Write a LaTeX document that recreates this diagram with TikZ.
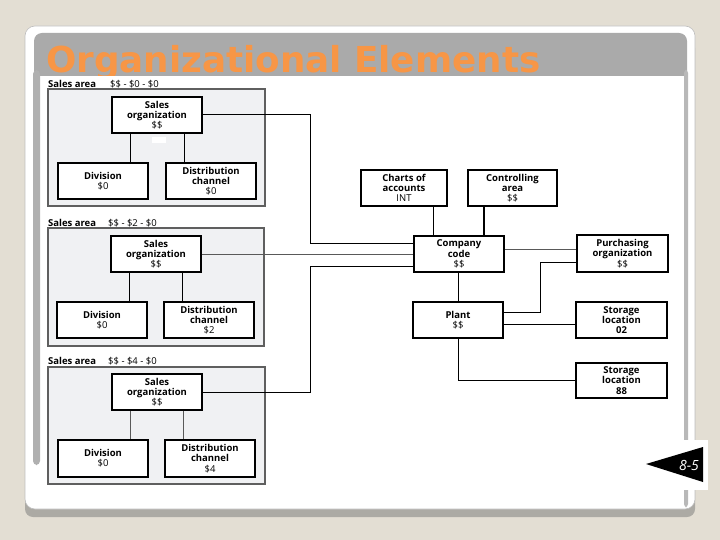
\documentclass[tikz,border=0pt]{standalone}
\usepackage{fontspec}
\newfontfamily\dfont{Open Sans}
\newfontfamily\tfont{DejaVu Sans}
\definecolor{bgc}{RGB}{227,222,211}
\definecolor{shadowc}{RGB}{172,170,164}
\definecolor{titlegray}{RGB}{170,170,170}
\definecolor{orangec}{RGB}{247,150,70}
\definecolor{barc}{RGB}{176,176,176}
\definecolor{stripc}{RGB}{184,184,184}
\definecolor{grpfill}{RGB}{240,241,243}
\definecolor{grpdraw}{RGB}{95,95,95}
\tikzset{
  grp/.style={fill=grpfill, draw=grpdraw, line width=1.4pt},
  box/.style={draw=black, fill=white, line width=1.2pt, align=center, inner sep=0pt,
    minimum width=90pt, minimum height=36pt,
    font=\dfont\bfseries\fontsize{9.5}{10.3}\selectfont},
  conn/.style={draw=black, line width=1pt},
  lconn/.style={draw=black!65, line width=1pt},
  lbl/.style={anchor=west, inner sep=0pt, font=\dfont\bfseries\fontsize{9.5}{10}\selectfont},
  lblv/.style={anchor=west, inner sep=0pt, font=\dfont\fontsize{9.5}{10}\selectfont},
}
\begin{document}
\begin{tikzpicture}[x=1pt,y=-1pt]
\useasboundingbox (0,0) rectangle (720,540);
% slide background and frame
\fill[bgc] (0,0) rectangle (720,540);
\fill[shadowc, rounded corners=8pt] (25,40) rectangle (695,517);
\filldraw[fill=white, draw=black!25, line width=0.6pt, rounded corners=10pt] (25,26) rectangle (695,509);
\fill[titlegray, rounded corners=8pt] (34,33) rectangle (687,95);
\node[anchor=base west, inner sep=0pt, text=orangec,
  font=\tfont\bfseries\fontsize{35.7}{40}\selectfont] (title) at (46,73) {Organizational Elements};
\fill[white] (40,76.5) rectangle (684,505);
\fill[barc, rounded corners=4pt] (33,70) rectangle (40,465);
\fill[stripc, rounded corners=3pt] (684,70) rectangle (688,507);

% sales area groups
\draw[grp] (48,89) rectangle (265,206);
\draw[grp] (48,228) rectangle (264,346);
\draw[grp] (48,367) rectangle (265,484);
\fill[white] (152,137) rectangle (166,143);

\node[lbl] (la1) at (48,84) {Sales area};
\node[lblv] (lv1) at (110,84) {\$\$ - \$0 - \$0};
\node[lbl] (la2) at (48,223) {Sales area};
\node[lblv] (lv2) at (108,223) {\$\$ - \$2 - \$0};
\node[lbl] (la3) at (48,361) {Sales area};
\node[lblv] (lv3) at (108,361) {\$\$ - \$4 - \$0};

% group 1
\node[box] (so1) at (157,115) {Sales\\organization\\{\mdseries\$\$}};
\node[box] (div1) at (103,181) {Division\\{\mdseries\$0}};
\node[box] (dc1) at (211,181) {Distribution\\channel\\{\mdseries\$0}};
% group 2
\node[box] (so2) at (156,254) {Sales\\organization\\{\mdseries\$\$}};
\node[box] (div2) at (102,320) {Division\\{\mdseries\$0}};
\node[box] (dc2) at (209,320) {Distribution\\channel\\{\mdseries\$2}};
% group 3
\node[box] (so3) at (157,392) {Sales\\organization\\{\mdseries\$\$}};
\node[box, minimum height=37pt] (div3) at (103,458.5) {Division\\{\mdseries\$0}};
\node[box, minimum height=37pt] (dc3) at (210,458.5) {Distribution\\channel\\{\mdseries\$4}};

\draw[conn] ([xshift=-27pt]so1.south) -- ([xshift=-27pt]so1.south |- div1.north);
\draw[conn] ([xshift=27pt]so1.south) -- ([xshift=27pt]so1.south |- dc1.north);
\draw[conn] ([xshift=-27pt]so2.south) -- ([xshift=-27pt]so2.south |- div2.north);
\draw[conn] ([xshift=26pt]so2.south) -- ([xshift=26pt]so2.south |- dc2.north);
\draw[lconn] ([xshift=-27pt]so3.south) -- ([xshift=-27pt]so3.south |- div3.north);
\draw[lconn] ([xshift=26pt]so3.south) -- ([xshift=26pt]so3.south |- dc3.north);

% right side
\node[box, minimum width=86pt] (coa) at (404,188) {Charts of\\accounts\\{\mdseries INT}};
\node[box, minimum width=89pt] (ca) at (512.5,188) {Controlling\\area\\{\mdseries\$\$}};
\node[box, line width=1.5pt] (cc) at (459,254) {Company\\code\\{\mdseries\$\$}};
\node[box, minimum width=91pt, minimum height=37pt] (po) at (622.5,253.5) {Purchasing\\organization\\{\mdseries\$\$}};
\node[box] (pl) at (458,320) {Plant\\{\mdseries\$\$}};
\node[box, minimum width=91pt] (s02) at (621.5,320) {Storage\\location\\02};
\node[box, minimum width=91pt, minimum height=35pt] (s88) at (621.5,380.5) {Storage\\location\\88};

% connectors from sales organizations to company code
\coordinate (k1) at (310,115);
\coordinate (k2) at (310,243);
\coordinate (k3) at (310,392);
\coordinate (k4) at (310,266);
\draw[conn] (so1.east) -- (k1) -- (k2) -- (k2 -| cc.west);
\draw[lconn] (so2.east) -- (so2.east -| cc.west);
\draw[conn] (so3.east) -- (k3) -- (k4) -- (k4 -| cc.west);

\draw[conn] ([xshift=29pt]coa.south) -- ([xshift=29pt]coa.south |- cc.north);
\draw[conn, line width=1.4pt] ([xshift=-28.5pt]ca.south) -- ([xshift=-28.5pt]ca.south |- cc.north);
\draw[lconn] ([yshift=5pt]cc.east) -- ([yshift=5pt]cc.east -| po.west);
\draw[conn] (pl.north |- cc.south) -- (pl.north);
\coordinate (k5) at (540,262);
\draw[conn] ([yshift=8pt]pl.east) -| (k5) -- (k5 -| po.west);
\draw[conn] ([yshift=-4pt]pl.east) -- ([yshift=-4pt]pl.east -| s02.west);
\draw[conn] (pl.south) |- (s88.west);

% page marker
\fill[white] (640,440) rectangle (708,490);
\fill[black] (646,464) -- (703,447) -- (703,482) -- cycle;
\node[text=white, inner sep=0pt, font=\dfont\itshape\fontsize{14}{14}\selectfont] (pg) at (689,465) {8-5};
\end{tikzpicture}
\end{document}
